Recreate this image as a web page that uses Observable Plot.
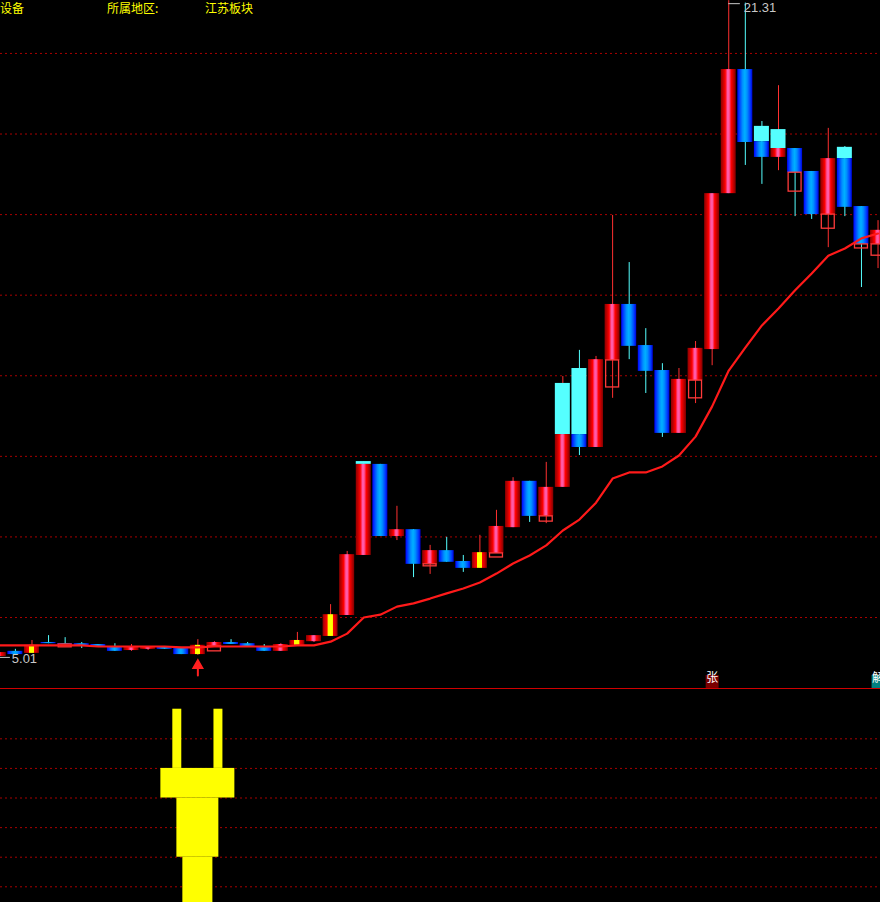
<!DOCTYPE html>
<html>
<head>
<meta charset="utf-8">
<script src="https://cdn.jsdelivr.net/npm/d3@7"></script>
<script src="https://cdn.jsdelivr.net/npm/@observablehq/plot@0.6"></script>
<style>
  html, body { margin: 0; padding: 0; background: #000; }
  #wrap { position: relative; width: 880px; height: 902px; background: #000; overflow: hidden; }
  .hdr { position: absolute; top: 1px; color: #ffff00; font: 12px/14px "Noto Sans CJK SC", sans-serif; white-space: pre; }
  #sep { height: 1px; background: #d00000; }
  svg { display: block; }
</style>
</head>
<body>
<div id="wrap">
  <div id="main"></div>
  <div id="sep"></div>
  <div id="lower"></div>
</div>
<script>
// ---------------- data ----------------
const headerLabels = ["设备", "所属地区:", "江苏板块"];

const opens  = [5.03,5.16,5.11,5.38,5.35,5.35,5.33,5.26,5.18,5.21,5.26,5.23,5.08,5.28,5.38,5.35,5.26,5.16,5.31,5.40,
                5.53,6.05,7.54,9.80,8.01,8.18,7.32,7.66,7.39,7.22,7.59,8.23,9.38,8.51,9.23,10.54,10.22,12.38,13.77,12.75,
                12.13,10.57,11.88,12.65,16.52,19.60,17.81,17.42,17.64,17.07,16.00,17.39,16.20,15.26];
const closes = [5.13,5.08,5.31,5.35,5.33,5.28,5.28,5.16,5.26,5.28,5.21,5.08,5.31,5.38,5.33,5.28,5.16,5.33,5.43,5.55,
                6.07,7.56,9.80,8.01,8.18,7.32,7.66,7.37,7.22,7.61,8.26,9.38,8.51,9.23,10.54,10.22,12.40,13.77,12.73,12.11,
                10.57,11.91,12.68,16.52,19.60,17.79,17.42,17.64,17.04,16.00,17.39,16.18,15.26,15.61];
const highs  = [5.13,5.21,5.43,5.55,5.50,5.38,5.33,5.35,5.33,5.28,5.26,5.23,5.45,5.40,5.45,5.38,5.33,5.35,5.63,5.55,
                6.32,7.64,9.87,9.80,8.76,8.18,7.79,7.99,7.54,8.04,8.66,9.47,9.38,9.85,11.98,12.63,12.48,15.98,14.81,13.17,
                12.30,12.18,12.85,16.52,21.31,21.25,18.31,19.20,17.64,17.07,18.14,17.69,16.20,15.85];
const lows   = [5.01,5.06,5.11,5.35,5.33,5.23,5.28,5.16,5.16,5.18,5.21,5.08,5.06,5.28,5.33,5.28,5.16,5.16,5.31,5.38,
                5.53,6.05,7.54,8.01,7.91,6.99,7.07,7.37,7.12,7.22,7.59,8.23,8.36,8.33,9.23,10.02,10.22,11.44,12.40,11.56,
                10.47,10.57,11.31,12.25,16.52,17.22,16.75,17.09,15.95,15.88,15.18,15.95,14.19,14.66];
const ma     = [5.31,5.31,5.31,5.31,5.31,5.31,5.28,5.28,5.28,5.28,5.28,5.26,5.26,5.28,5.28,5.28,5.28,5.28,5.31,5.31,
                5.40,5.60,6.00,6.07,6.27,6.35,6.47,6.60,6.72,6.87,7.09,7.34,7.54,7.79,8.16,8.43,8.85,9.45,9.60,9.60,
                9.75,10.02,10.49,11.24,12.13,12.70,13.25,13.67,14.12,14.54,14.98,15.16,15.41,15.53];

// candles drawn with a yellow core
const yellowIdx = [2, 12, 18, 20, 29];

// cyan overlay boxes
const cyanIdx = [22, 34, 35, 46, 47, 51];
const cyanTop = [9.87, 11.81, 12.18, 18.19, 18.11, 17.67];
const cyanBot = [9.80, 10.54, 10.54, 17.81, 17.64, 17.39];

// hollow outline boxes
const boxIdx = [4, 13, 26, 30, 33, 37, 42, 48, 50, 52, 53];
const boxTop = [5.33, 5.28, 7.32, 7.59, 8.51, 12.38, 11.88, 17.04, 16.00, 15.26, 15.26];
const boxBot = [5.26, 5.16, 7.27, 7.49, 8.38, 11.71, 11.44, 16.57, 15.65, 15.16, 14.98];

// buy arrow signal
const arrowIdx = [12];

// tags above the separator
const tagIdx  = [43, 53];
const tagText = ["张", "解"];

// main panel grid values
const gridMain = [6, 8, 10, 12, 14, 16, 18, 20];

// lower panel (indicator sticks at bar 12)
const lowerGrid = [1, 2, 3, 4, 5, 6];
const stickIdx    = [12, 12, 12, 12, 12];
const stickLo     = [5, 5, 4, 2, 0];
const stickHi     = [7, 7, 5, 4, 2];
const stickWidth  = [0.54, 0.54, 4.46, 2.53, 1.81];
const stickOffset = [-1.24, 1.24, 0, 0, 0];

// ---------------- build ----------------
const N = opens.length;
const candles = d3.range(N).map(i => ({
  i, o: opens[i], c: closes[i], h: highs[i], l: lows[i], ma: ma[i],
  kind: yellowIdx.includes(i) ? "y" : (closes[i] >= opens[i] ? "r" : "b")
}));
const cyans = cyanIdx.map((i, k) => ({i, t: cyanTop[k], b: cyanBot[k]}));
const boxes = boxIdx.map((i, k) => ({i, t: boxTop[k], b: boxBot[k]}));
const arrows = arrowIdx.map(i => ({i, l: lows[i]}));
const tags = tagIdx.map((i, k) => ({i, text: tagText[k]}));
const sticks = stickIdx.map((i, k) => ({i: i + stickOffset[k], w: stickWidth[k], lo: stickLo[k], hi: stickHi[k]}));

const hiI = d3.maxIndex(highs), loI = d3.minIndex(lows);
const hiPt = [{i: hiI, v: highs[hiI]}];
const loPt = [{i: loI, v: lows[loI]}];

const HW = 0.452;   // half body width (bar units)
const BW = 0.39;    // half outline-box width
const xDomain = [0.103, 53.148];
const REDW = "#ff3030", CYAN = "#55ffff";
const grid = {stroke: "#a80000", strokeDasharray: "2,3", strokeWidth: 1};
const FONT = "Liberation Sans, Arial, sans-serif";
const LBL = {fill: "#c8c8c8", fontSize: 13, fontFamily: FONT, textAnchor: "start", text: d => d.v.toFixed(2)};

const mainPlot = Plot.plot({
  width: 880, height: 688, margin: 0,
  style: {background: "#000", color: "#fff"},
  x: {domain: xDomain, axis: null},
  y: {domain: [4.238, 21.314], axis: null},
  color: {type: "identity"},
  marks: [
    Plot.ruleY(gridMain, grid),
    Plot.ruleX(candles, {x: "i", y1: "l", y2: "h", stroke: d => d.kind === "b" ? CYAN : REDW, strokeWidth: 1}),
    Plot.rect(cyans, {x1: d => d.i - HW, x2: d => d.i + HW, y1: "b", y2: "t", fill: CYAN}),
    Plot.rect(candles.filter(d => d.kind === "r"), {x1: d => d.i - HW, x2: d => d.i + HW, y1: "o", y2: "c", fill: "url(#gRed)"}),
    Plot.rect(candles.filter(d => d.kind === "y"), {x1: d => d.i - HW, x2: d => d.i + HW, y1: "o", y2: "c", fill: "url(#gYel)"}),
    Plot.rect(candles.filter(d => d.kind === "b"), {x1: d => d.i - HW, x2: d => d.i + HW, y1: "o", y2: "c", fill: "url(#gBlue)"}),
    Plot.rect(boxes, {x1: d => d.i - BW, x2: d => d.i + BW, y1: "b", y2: "t", fill: "none", stroke: "#ff3a3a", strokeWidth: 1.3}),
    Plot.line(candles, {x: "i", y: "ma", stroke: "#ff1a1a", strokeWidth: 2.2}),
    // high / low markers
    Plot.ruleY(hiPt, {x1: "i", x2: d => d.i + 0.7, y: "v", dy: 3, stroke: "#c8c8c8", strokeWidth: 1}),
    Plot.ruleY(loPt, {x1: "i", x2: d => d.i + 0.7, y: "v", stroke: "#c8c8c8", strokeWidth: 1}),
    Plot.text(hiPt, {...LBL, x: "i", y: "v", dx: 15, dy: 7}),
    Plot.text(loPt, {...LBL, x: "i", y: "v", dx: 13, dy: 1}),
    // buy arrow
    Plot.vector(arrows, {x: "i", y: "l", dy: 20, length: 12, rotate: 0, anchor: "start", stroke: "#ff2020", strokeWidth: 2}),
    Plot.dot(arrows, {x: "i", y: "l", dy: 10, symbol: "triangle", r: 3.6, fill: "#ff2020", stroke: "#ff2020"}),
    // tags
    Plot.dot(tags, {x: "i", frameAnchor: "bottom", dy: -7, symbol: "square", r: 7.3,
      fill: d => d.text === "张" ? "#7a0000" : "#008080"}),
    Plot.text(tags, {x: "i", frameAnchor: "bottom", dy: -7, text: "text", fill: "#fff", fontSize: 12,
      fontFamily: "Noto Sans CJK SC"})
  ]
});

const lowerPlot = Plot.plot({
  width: 880, height: 213, margin: 0,
  style: {background: "#000"},
  x: {domain: xDomain, axis: null},
  y: {domain: [0.47, 7.666], axis: null},
  marks: [
    Plot.ruleY(lowerGrid, grid),
    Plot.rect(sticks, {x1: d => d.i - d.w / 2, x2: d => d.i + d.w / 2, y1: "lo", y2: "hi", fill: "#ffff00"})
  ]
});

function addDefs(svg) {
  const defs = d3.select(svg).insert("defs", ":first-child");
  const grads = {
    gRed:  [[0,"#8c0000"],[0.15,"#c00000"],[0.3,"#ff0000"],[0.45,"#ff5aa8"],[0.55,"#ff5aa8"],[0.7,"#ff0000"],[0.85,"#c00000"],[1,"#800000"]],
    gYel:  [[0,"#8c0000"],[0.15,"#d00000"],[0.32,"#ff0000"],[0.34,"#ffff00"],[0.66,"#ffff00"],[0.68,"#ff0000"],[0.85,"#d00000"],[1,"#800000"]],
    gBlue: [[0,"#0000ff"],[0.15,"#0040ff"],[0.35,"#0090ff"],[0.5,"#00b0ff"],[0.65,"#0090ff"],[0.85,"#0040ff"],[1,"#0000d8"]]
  };
  for (const [id, stops] of Object.entries(grads)) {
    const g = defs.append("linearGradient").attr("id", id).attr("x1", 0).attr("x2", 1).attr("y1", 0).attr("y2", 0);
    for (const [o, c] of stops) g.append("stop").attr("offset", o).attr("stop-color", c);
  }
}
addDefs(mainPlot);
document.getElementById("main").appendChild(mainPlot);
document.getElementById("lower").appendChild(lowerPlot);

// header labels
const hdrX = [0, 107, 205];
const wrap = document.getElementById("wrap");
headerLabels.forEach((t, k) => {
  const d = document.createElement("div");
  d.className = "hdr";
  d.style.left = hdrX[k] + "px";
  d.textContent = t;
  wrap.appendChild(d);
});
</script>
</body>
</html>
